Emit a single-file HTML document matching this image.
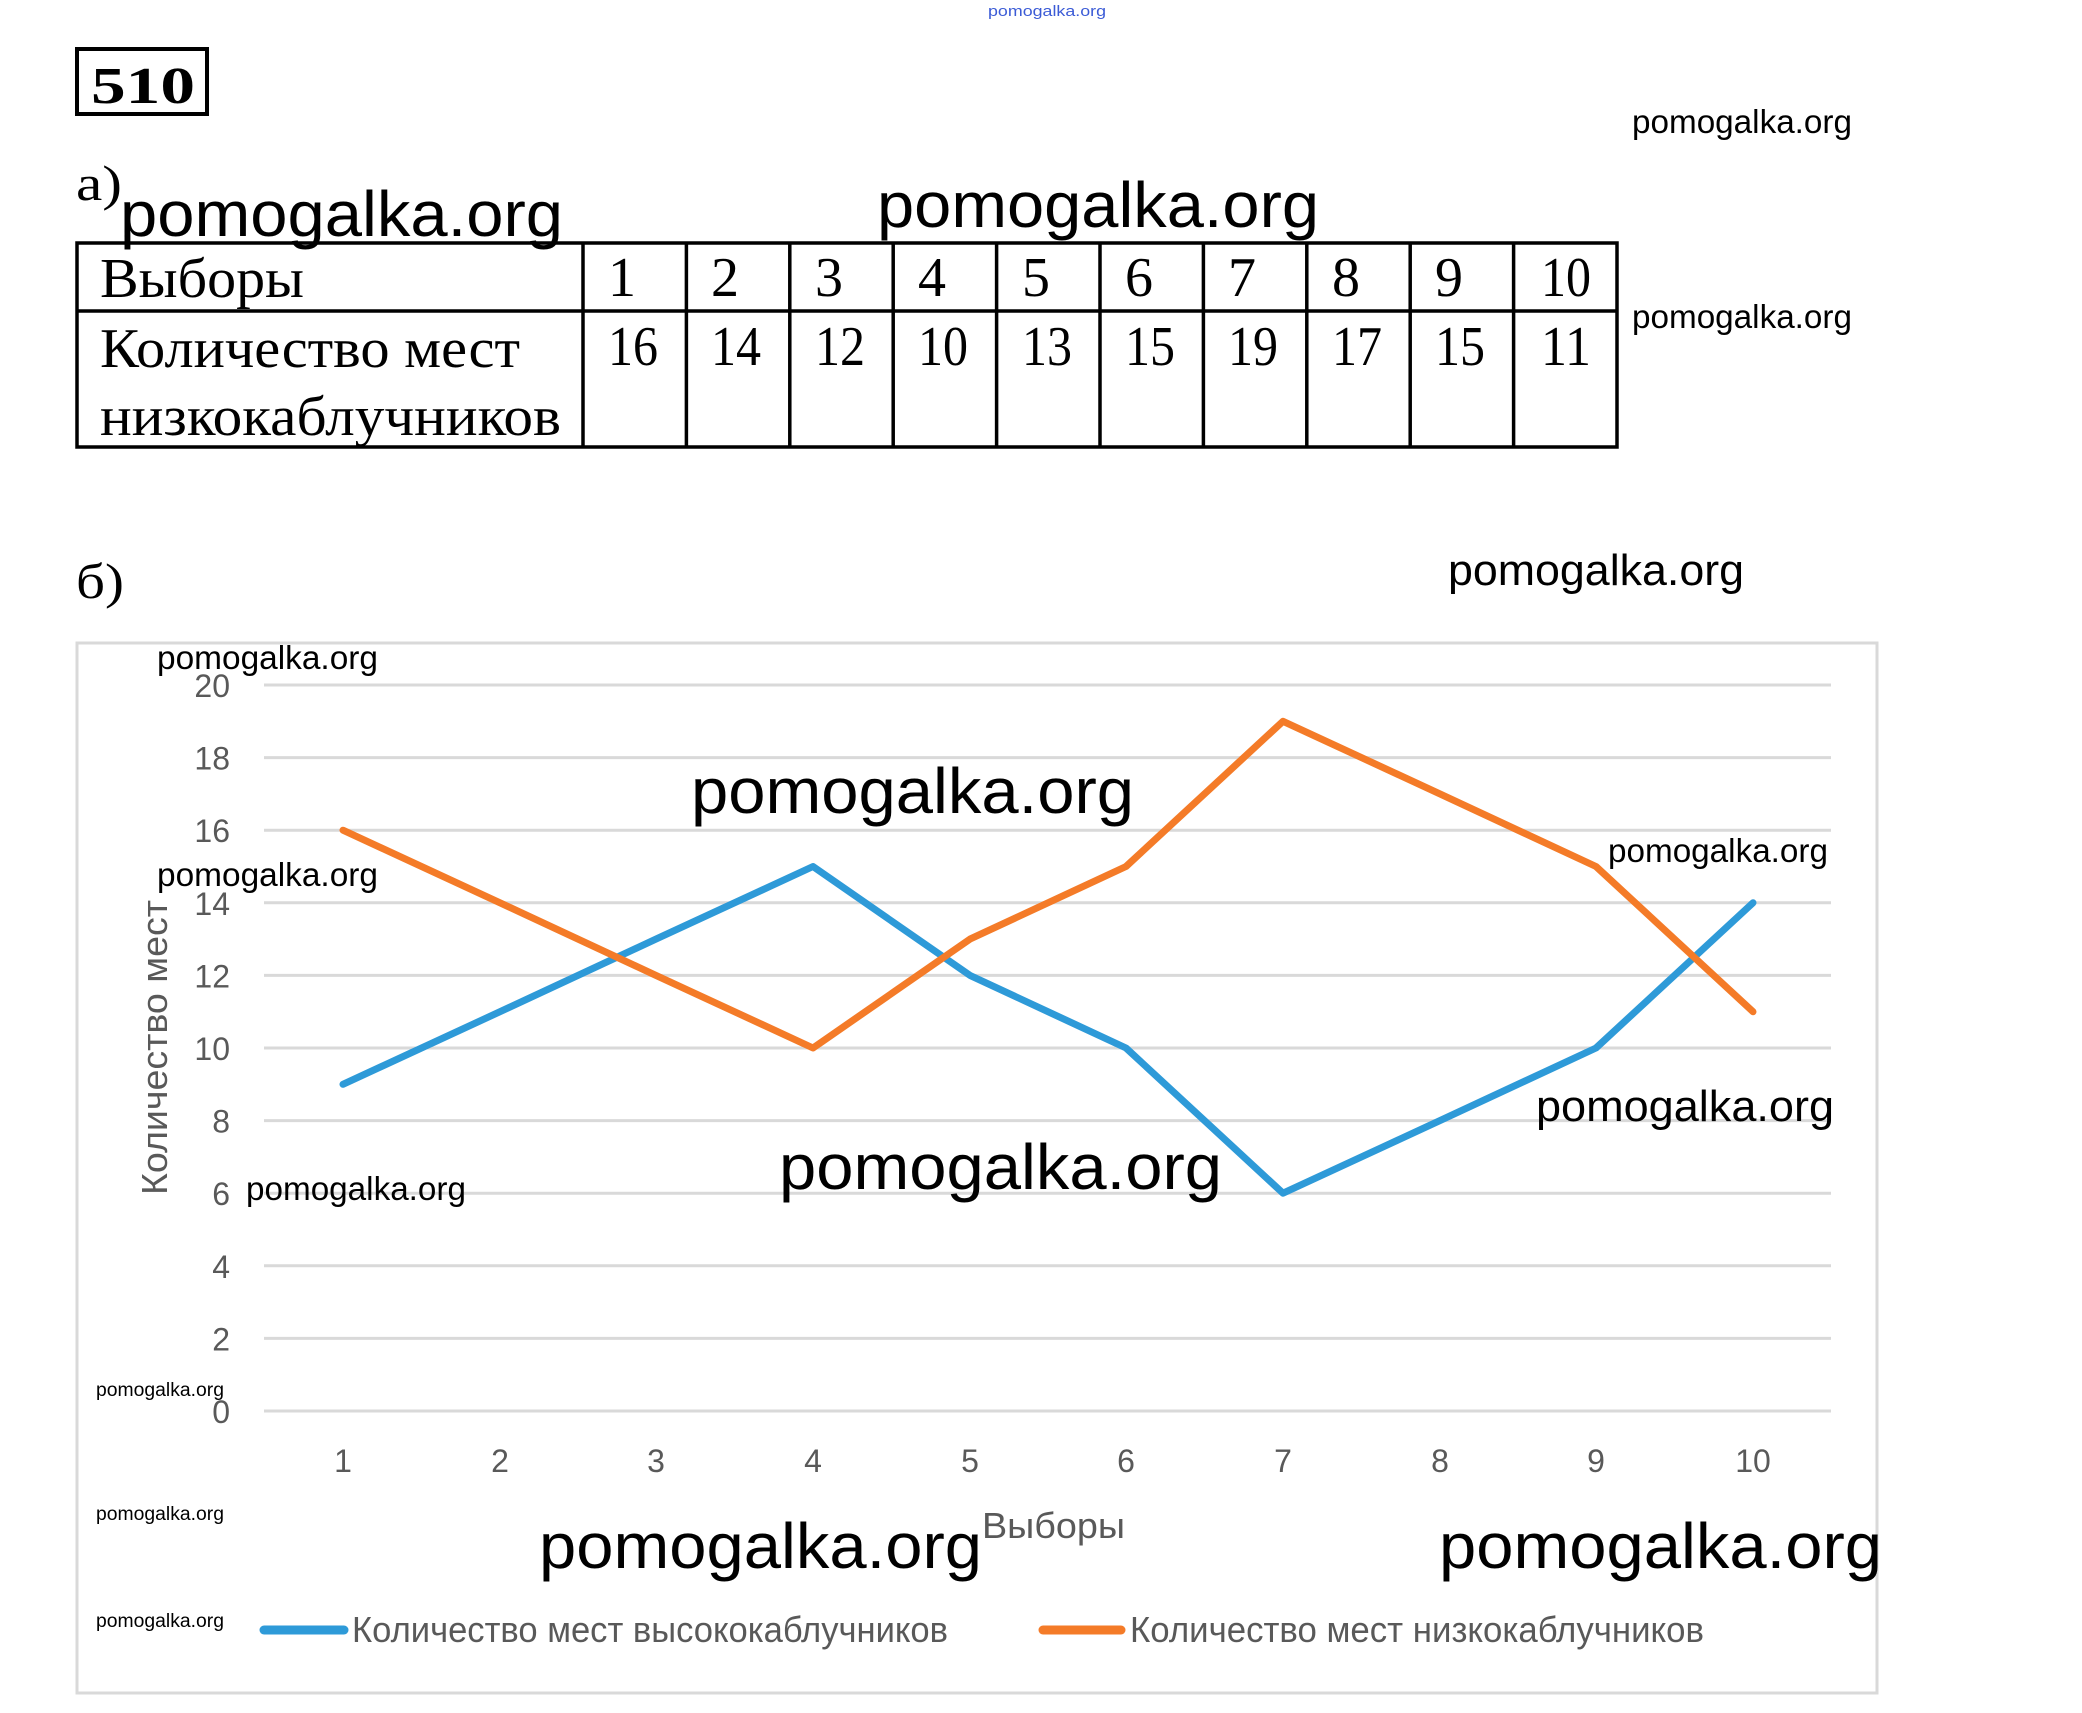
<!DOCTYPE html>
<html><head><meta charset="utf-8"><style>
html,body{margin:0;padding:0;background:#fff;}
svg{display:block;}
.wm{font-family:"Liberation Sans",sans-serif;fill:#000;}
.ser{font-family:"Liberation Serif",serif;fill:#000;}
.ax{font-family:"Liberation Sans",sans-serif;fill:#595959;}
</style></head><body>
<svg width="2082" height="1713" viewBox="0 0 2082 1713" xmlns="http://www.w3.org/2000/svg">
<rect width="2082" height="1713" fill="#fff"/>
<text x="988" y="16" class="wm" style="fill:#3b5bd6" font-size="15" textLength="118" lengthAdjust="spacingAndGlyphs">pomogalka.org</text>
<rect x="77" y="49" width="130" height="65" fill="none" stroke="#000" stroke-width="4"/>
<text x="91" y="103" class="ser" font-size="52" font-weight="bold" textLength="104" lengthAdjust="spacingAndGlyphs">510</text>
<text x="76" y="200" class="ser" font-size="50" textLength="46" lengthAdjust="spacingAndGlyphs">а)</text>
<text x="76" y="598" class="ser" font-size="50" textLength="48" lengthAdjust="spacingAndGlyphs">б)</text>
<g stroke="#000" stroke-width="3.5" fill="none">
<rect x="77" y="243" width="1540" height="204"/>
<line x1="77" y1="311" x2="1617" y2="311"/>
<line x1="583" y1="243" x2="583" y2="447"/>
<line x1="686.4" y1="243" x2="686.4" y2="447"/>
<line x1="789.8" y1="243" x2="789.8" y2="447"/>
<line x1="893.2" y1="243" x2="893.2" y2="447"/>
<line x1="996.6" y1="243" x2="996.6" y2="447"/>
<line x1="1100" y1="243" x2="1100" y2="447"/>
<line x1="1203.4" y1="243" x2="1203.4" y2="447"/>
<line x1="1306.8" y1="243" x2="1306.8" y2="447"/>
<line x1="1410.2" y1="243" x2="1410.2" y2="447"/>
<line x1="1513.6" y1="243" x2="1513.6" y2="447"/>
</g>
<g class="ser" font-size="56">
<text x="100" y="297" textLength="204" lengthAdjust="spacingAndGlyphs">Выборы</text>
<text x="100" y="367" textLength="420" lengthAdjust="spacingAndGlyphs">Количество мест</text>
<text x="100" y="435" textLength="461" lengthAdjust="spacingAndGlyphs">низкокаблучников</text>
</g>
<g class="ser" font-size="56">
<text x="608" y="296">1</text><text x="711" y="296">2</text><text x="815" y="296">3</text><text x="918" y="296">4</text><text x="1022" y="296">5</text><text x="1125" y="296">6</text><text x="1228" y="296">7</text><text x="1332" y="296">8</text><text x="1435" y="296">9</text><text x="1541" y="296" textLength="50" lengthAdjust="spacingAndGlyphs">10</text>
<text x="608" y="365" textLength="50" lengthAdjust="spacingAndGlyphs">16</text>
<text x="711" y="365" textLength="50" lengthAdjust="spacingAndGlyphs">14</text>
<text x="815" y="365" textLength="50" lengthAdjust="spacingAndGlyphs">12</text>
<text x="918" y="365" textLength="50" lengthAdjust="spacingAndGlyphs">10</text>
<text x="1022" y="365" textLength="50" lengthAdjust="spacingAndGlyphs">13</text>
<text x="1125" y="365" textLength="50" lengthAdjust="spacingAndGlyphs">15</text>
<text x="1228" y="365" textLength="50" lengthAdjust="spacingAndGlyphs">19</text>
<text x="1332" y="365" textLength="50" lengthAdjust="spacingAndGlyphs">17</text>
<text x="1435" y="365" textLength="50" lengthAdjust="spacingAndGlyphs">15</text>
<text x="1541" y="365" textLength="50" lengthAdjust="spacingAndGlyphs">11</text>
</g>
<rect x="77" y="643" width="1800" height="1050" fill="none" stroke="#d9d9d9" stroke-width="3"/>
<g stroke="#d9d9d9" stroke-width="3">
<line x1="264" y1="685" x2="1831" y2="685"/>
<line x1="264" y1="757.6" x2="1831" y2="757.6"/>
<line x1="264" y1="830.2" x2="1831" y2="830.2"/>
<line x1="264" y1="902.8" x2="1831" y2="902.8"/>
<line x1="264" y1="975.4" x2="1831" y2="975.4"/>
<line x1="264" y1="1048" x2="1831" y2="1048"/>
<line x1="264" y1="1120.6" x2="1831" y2="1120.6"/>
<line x1="264" y1="1193.2" x2="1831" y2="1193.2"/>
<line x1="264" y1="1265.8" x2="1831" y2="1265.8"/>
<line x1="264" y1="1338.4" x2="1831" y2="1338.4"/>
<line x1="264" y1="1411" x2="1831" y2="1411"/>
</g>
<g class="ax" font-size="32" text-anchor="end">
<text x="230" y="697">20</text><text x="230" y="769.6">18</text><text x="230" y="842.2">16</text><text x="230" y="914.8">14</text><text x="230" y="987.4">12</text><text x="230" y="1060">10</text><text x="230" y="1132.6">8</text><text x="230" y="1205.2">6</text><text x="230" y="1277.8">4</text><text x="230" y="1350.4">2</text><text x="230" y="1423">0</text>
</g>
<g class="ax" font-size="32" text-anchor="middle">
<text x="343" y="1472">1</text><text x="500" y="1472">2</text><text x="656" y="1472">3</text><text x="813" y="1472">4</text><text x="970" y="1472">5</text><text x="1126" y="1472">6</text><text x="1283" y="1472">7</text><text x="1440" y="1472">8</text><text x="1596" y="1472">9</text><text x="1753" y="1472">10</text>
</g>
<text transform="translate(167,1195) rotate(-90)" class="ax" font-size="36" textLength="295" lengthAdjust="spacingAndGlyphs">Количество мест</text>
<text x="982" y="1538" class="ax" font-size="36" textLength="143" lengthAdjust="spacingAndGlyphs">Выборы</text>
<polyline fill="none" stroke="#2e9ad8" stroke-width="7" stroke-linejoin="round" stroke-linecap="round"
 points="343,1084.3 500,1011.7 656,939.1 813,866.5 970,975.4 1126,1048 1283,1193.2 1440,1120.6 1596,1048 1753,902.8"/>
<polyline fill="none" stroke="#f47b28" stroke-width="7" stroke-linejoin="round" stroke-linecap="round"
 points="343,830.2 500,902.8 656,975.4 813,1048 970,939.1 1126,866.5 1283,721.3 1440,793.9 1596,866.5 1753,1011.7"/>
<line x1="264" y1="1630" x2="344" y2="1630" stroke="#2e9ad8" stroke-width="9" stroke-linecap="round"/>
<text x="352" y="1642" class="ax" font-size="36" textLength="596" lengthAdjust="spacingAndGlyphs">Количество мест высококаблучников</text>
<line x1="1043" y1="1630" x2="1121" y2="1630" stroke="#f47b28" stroke-width="9" stroke-linecap="round"/>
<text x="1130" y="1642" class="ax" font-size="36" textLength="574" lengthAdjust="spacingAndGlyphs">Количество мест низкокаблучников</text>
<g class="wm">
<text x="1632" y="133" font-size="33" textLength="220" lengthAdjust="spacingAndGlyphs">pomogalka.org</text>
<text x="120" y="236" font-size="64" textLength="443" lengthAdjust="spacingAndGlyphs">pomogalka.org</text>
<text x="877" y="227" font-size="64" textLength="442" lengthAdjust="spacingAndGlyphs">pomogalka.org</text>
<text x="1632" y="328" font-size="33" textLength="220" lengthAdjust="spacingAndGlyphs">pomogalka.org</text>
<text x="1448" y="585" font-size="44" textLength="296" lengthAdjust="spacingAndGlyphs">pomogalka.org</text>
<text x="157" y="669" font-size="33" textLength="221" lengthAdjust="spacingAndGlyphs">pomogalka.org</text>
<text x="691" y="813" font-size="64" textLength="443" lengthAdjust="spacingAndGlyphs">pomogalka.org</text>
<text x="157" y="886" font-size="33" textLength="221" lengthAdjust="spacingAndGlyphs">pomogalka.org</text>
<text x="1608" y="862" font-size="33" textLength="220" lengthAdjust="spacingAndGlyphs">pomogalka.org</text>
<text x="246" y="1200" font-size="33" textLength="220" lengthAdjust="spacingAndGlyphs">pomogalka.org</text>
<text x="779" y="1189" font-size="64" textLength="443" lengthAdjust="spacingAndGlyphs">pomogalka.org</text>
<text x="1536" y="1121" font-size="44" textLength="298" lengthAdjust="spacingAndGlyphs">pomogalka.org</text>
<text x="96" y="1396" font-size="19" textLength="128" lengthAdjust="spacingAndGlyphs">pomogalka.org</text>
<text x="96" y="1520" font-size="19" textLength="128" lengthAdjust="spacingAndGlyphs">pomogalka.org</text>
<text x="96" y="1627" font-size="19" textLength="128" lengthAdjust="spacingAndGlyphs">pomogalka.org</text>
<text x="539" y="1568" font-size="64" textLength="443" lengthAdjust="spacingAndGlyphs">pomogalka.org</text>
<text x="1439" y="1568" font-size="64" textLength="443" lengthAdjust="spacingAndGlyphs">pomogalka.org</text>
</g>
</svg>
</body></html>
